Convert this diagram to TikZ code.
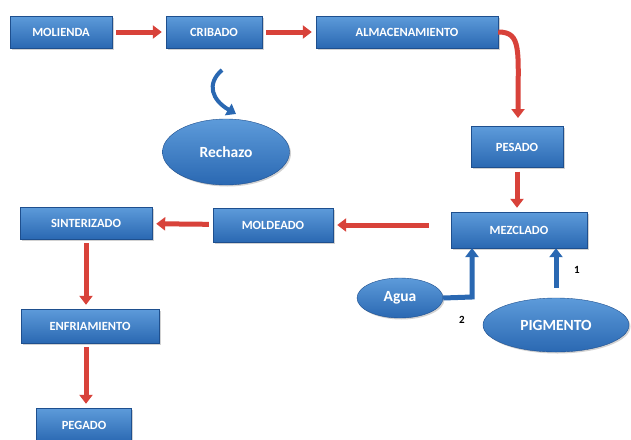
\documentclass[tikz,border=0pt]{standalone}
\usepackage{fontspec}
\setmainfont{Carlito}
\usetikzlibrary{arrows.meta,shapes.geometric,shadows}

\definecolor{azulclaro}{HTML}{5D9BDA}
\definecolor{azul}{HTML}{2A68B2}
\definecolor{azulborde}{HTML}{1E4F8E}
\definecolor{rojo}{HTML}{D8423A}

\begin{document}
\begin{tikzpicture}[x=1pt,y=-1pt,
    caja/.style = {rectangle,draw=azulborde,thin,top color=azulclaro,bottom color=azul,
                   text=white,font=\bfseries\fontsize{12.5}{14}\selectfont,minimum height=32pt,
                   drop shadow={shadow xshift=1.5pt,shadow yshift=-1.5pt,opacity=0.35}},
    ovalo/.style = {ellipse,draw=azulborde,thin,inner sep=0pt,top color=azulclaro,bottom color=azul,
                    text=white,font=\bfseries\fontsize{15.5}{17}\selectfont,
                    drop shadow={shadow xshift=1.5pt,shadow yshift=-1.5pt,opacity=0.35}},
    flecha/.style = {draw=rojo,line width=5pt,-{Triangle[width=13pt,length=9pt]},shorten <=4pt,shorten >=4pt},
    flechaazul/.style = {draw=azul,line width=5pt,-{Triangle[width=13pt,length=9pt]}}]
\useasboundingbox[fill=white] (0,0) rectangle (631,439);
% fila de arriba
\node[caja,minimum width=102pt] (mol) at (61,32) {MOLIENDA};
\node[caja,minimum width=96pt] (crib) at (214,32) {CRIBADO};
\node[caja,minimum width=182pt] (alm) at (407,32) {ALMACENAMIENTO};
\node[ovalo,minimum width=127pt,minimum height=66pt] (rech) at (226,152) {Rechazo};
\node[caja,minimum width=92pt,minimum height=41pt] (pes) at (517,147) {PESADO};
% fila del medio
\node[caja,minimum width=136pt,minimum height=36pt] (mez) at (519,230) {MEZCLADO};
\node[caja,minimum width=120pt,minimum height=34pt] (mold) at (273,225) {MOLDEADO};
\node[caja,minimum width=132pt] (sint) at (86,223) {SINTERIZADO};
\node[ovalo,minimum width=86pt,minimum height=40pt] (agua) at (400,298) {Agua};
\node[ovalo,minimum width=146pt,minimum height=54pt] (pig) at (556,325) {PIGMENTO};
% columna izquierda
\node[caja,minimum width=138pt,minimum height=34pt] (enf) at (90,326) {ENFRIAMIENTO};
\node[caja,minimum width=95pt,minimum height=34pt] (peg) at (84,425) {PEGADO};

\foreach \a/\b in {mol/crib,crib/alm,mold/sint} \draw[flecha] (\a) -- (\b);
\draw[flecha,shorten <=0pt] (alm.east) .. controls (522,32) and (518,50) .. (518,122);
\draw[flecha] (pes.south) -- (pes.south |- mez.north);
\draw[flecha,shorten <=22pt] (mez.west |- mold.east) -- (mold.east);
\draw[flecha] (sint.south) -- (sint.south |- enf.north);
\draw[flecha] (enf.south -| sint.south) -- (peg.north -| sint.south);

\coordinate (giro) at (222,70);
\draw[flechaazul,line width=4pt] (giro) .. controls (206,84) and (212,100) .. (236,114);
\draw[flechaazul] (agua.east) -- (472,297) -- (472,248);
\draw[flechaazul,shorten <=10pt] (pig.north) -- (pig.north |- mez.south);
\node[font=\bfseries\fontsize{11}{12}\selectfont] (dos) at (462,320) {2};
\node[font=\bfseries\fontsize{11}{12}\selectfont] (uno) at (577,270) {1};
\end{tikzpicture}
\end{document}
